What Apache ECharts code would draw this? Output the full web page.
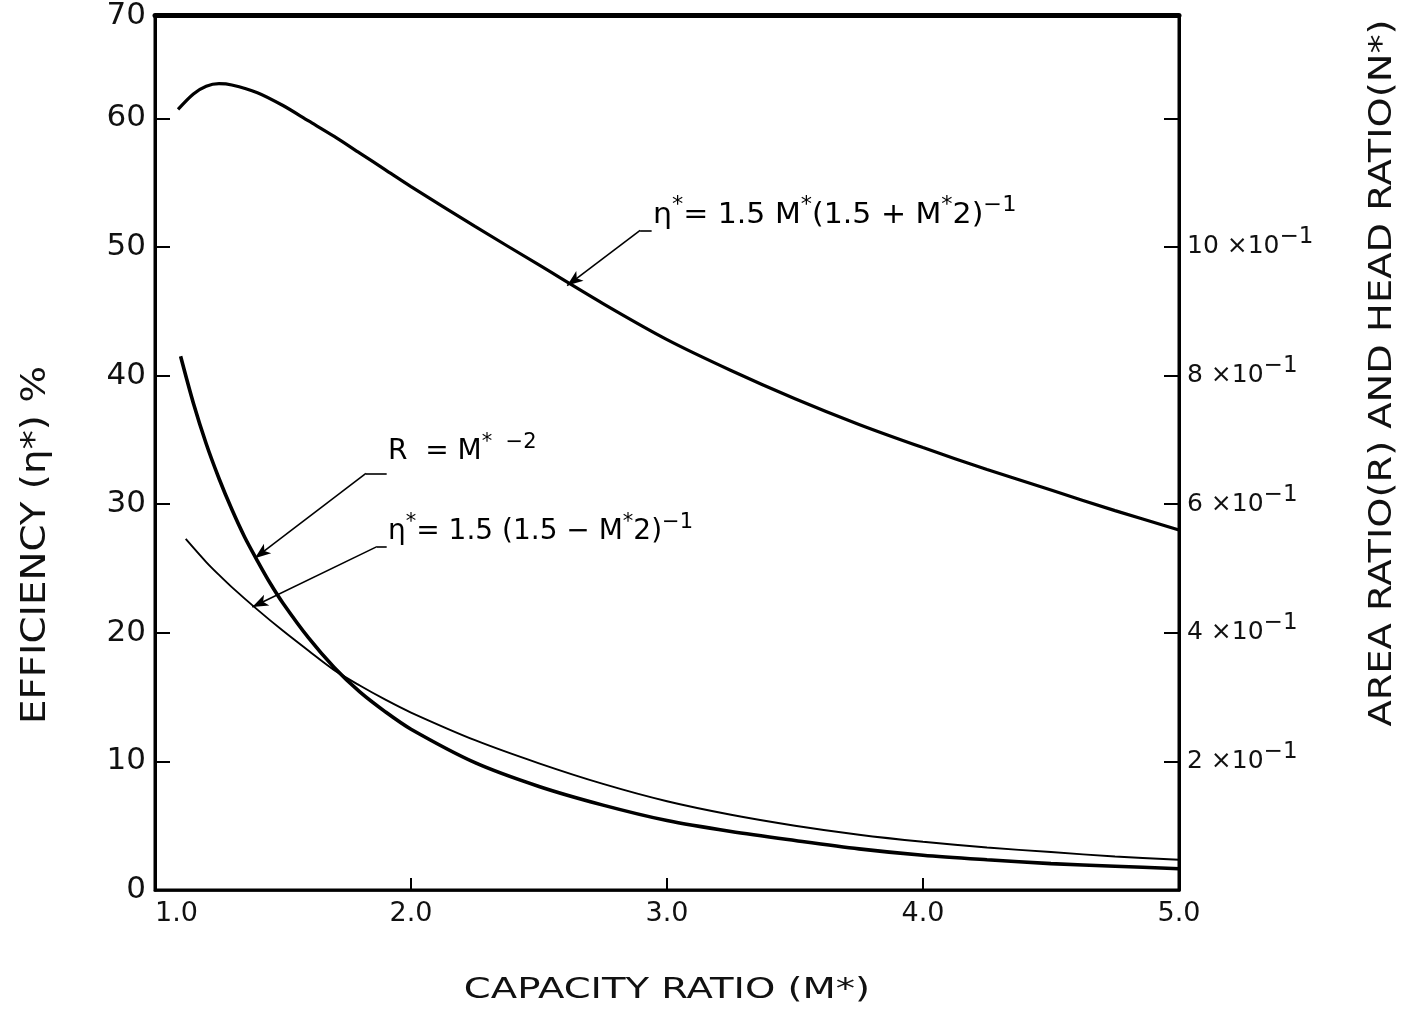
<!DOCTYPE html>
<html>
<head>
<meta charset="utf-8">
<script src="https://cdn.jsdelivr.net/npm/echarts/dist/echarts.min.js"></script>
<style>
html,body{margin:0;padding:0;background:#fff;}
#chart{width:1405px;height:1016px;}
</style>
</head>
<body>
<div id="chart"></div>
<script>
// ---------- data ----------
// Efficiency curve  η* = 1.5 M*(1.5 + M*²)⁻¹   (left axis, %)
const M_eta = [1.09, 1.15, 1.2, 1.25, 1.3, 1.4, 1.5, 1.6, 1.7, 1.8, 1.9, 2.0, 2.25, 2.5, 2.75, 3.0, 3.25, 3.5, 3.75, 4.0, 4.25, 4.5, 4.75, 5.0];
const etaPct = [60.7, 61.9, 62.5, 62.7, 62.6, 62.0, 61.0, 59.8, 58.6, 57.3, 56.0, 54.7, 51.6, 48.6, 45.6, 42.8, 40.4, 38.2, 36.2, 34.4, 32.7, 31.1, 29.5, 28.0];

// Area ratio  R = M*⁻²   (right axis, ratio)
const M_R = [1.1, 1.15, 1.2, 1.25, 1.3, 1.35, 1.4, 1.45, 1.5, 1.6, 1.7, 1.8, 1.9, 2.0, 2.25, 2.5, 2.75, 3.0, 3.25, 3.5, 3.75, 4.0, 4.25, 4.5, 4.75, 5.0];
const areaR = [0.83, 0.757, 0.694, 0.64, 0.592, 0.549, 0.512, 0.477, 0.446, 0.392, 0.346, 0.308, 0.277, 0.25, 0.198, 0.161, 0.132, 0.108, 0.091, 0.077, 0.064, 0.054, 0.047, 0.041, 0.037, 0.033];

// Head ratio  η* = 1.5 (1.5 − M*²)⁻¹   (right axis, ratio)
const M_N = [1.12, 1.2, 1.25, 1.3, 1.4, 1.5, 1.6, 1.7, 1.8, 1.9, 2.0, 2.25, 2.5, 2.75, 3.0, 3.25, 3.5, 3.75, 4.0, 4.25, 4.5, 4.75, 5.0];
const headN = [0.546, 0.51, 0.49, 0.471, 0.436, 0.403, 0.372, 0.342, 0.318, 0.296, 0.276, 0.233, 0.197, 0.165, 0.138, 0.117, 0.1, 0.086, 0.075, 0.066, 0.059, 0.052, 0.047];

// tick labels
const xTickLabels = ['1.0', '2.0', '3.0', '4.0', '5.0'];
const leftTickLabels = ['0', '10', '20', '30', '40', '50', '60', '70'];
const rightTickValues = [0.2, 0.4, 0.6, 0.8, 1.0];
const rightTickMantissas = ['2', '4', '6', '8', '10'];

// titles
const xTitle = 'CAPACITY RATIO (M*)';
const leftTitle = 'EFFICIENCY (η*) %';
const rightTitle = 'AREA RATIO(R) AND HEAD RATIO(N*)';

// ---------- chart ----------
const FONT = '"DejaVu Sans", "Liberation Sans", sans-serif';
const INK = '#111';
const LEFT_MAX = 68;          // top border of the drawing (labelled 70 in the original)
const RIGHT_MAX = LEFT_MAX / 50;

const chart = echarts.init(document.getElementById('chart'), null, {renderer: 'canvas'});

const zip = (xs, ys) => xs.map((x, i) => [x, ys[i]]);

const supRich = {
  a: {fontSize: 25, fontFamily: FONT, color: INK, lineHeight: 42},
  s: {fontSize: 23, fontFamily: FONT, color: INK, lineHeight: 22, verticalAlign: 'top'}
};

const option = {
  animation: false,
  backgroundColor: '#fff',
  grid: {left: 155, right: 226, top: 15, bottom: 126, show: true, borderColor: '#000', borderWidth: 3, containLabel: false},
  xAxis: [{
    type: 'value', min: 1, max: 5, interval: 1,
    axisLine: {show: true, onZero: false, lineStyle: {color: '#000', width: 2.5}},
    axisTick: {show: true, inside: true, length: 12, lineStyle: {color: '#000', width: 2}},
    splitLine: {show: false},
    axisLabel: {
      color: INK, fontSize: 27, fontFamily: FONT, margin: 10,
      alignMinLabel: 'left',
      formatter: v => xTickLabels[Math.round(v) - 1] || ''
    }
  }, {
    type: 'value', min: 1, max: 5, position: 'top',
    axisLine: {show: true, onZero: false, lineStyle: {color: '#000', width: 5}},
    axisTick: {show: false}, axisLabel: {show: false}, splitLine: {show: false}
  }],
  yAxis: [
    {
      type: 'value', min: 0, max: LEFT_MAX, interval: 10,
      axisLine: {show: true, onZero: false, lineStyle: {color: '#000', width: 3}},
      axisTick: {show: true, inside: true, length: 15, lineStyle: {color: '#000', width: 2}},
      splitLine: {show: false},
      axisLabel: {
        color: INK, fontSize: 31, fontFamily: FONT, margin: 9, showMaxLabel: true,
        formatter: v => (v >= LEFT_MAX ? leftTickLabels[leftTickLabels.length - 1] : (leftTickLabels[Math.round(v / 10)] || ''))
      }
    },
    {
      type: 'value', min: 0, max: RIGHT_MAX, interval: 0.2, position: 'right',
      axisLine: {show: true, onZero: false, lineStyle: {color: '#000', width: 3}},
      axisTick: {show: true, inside: true, length: 15, lineStyle: {color: '#000', width: 2}},
      splitLine: {show: false},
      axisLabel: {
        color: INK, fontSize: 25, fontFamily: FONT, margin: 8,
        formatter: v => {
          const i = rightTickValues.findIndex(t => Math.abs(t - v) < 1e-6);
          if (i < 0) return '';
          return '{a|' + rightTickMantissas[i] + ' ×10}{s|−1}';
        },
        rich: supRich
      }
    }
  ],
  series: [
    {
      name: 'eta', type: 'line', xAxisIndex: 0, yAxisIndex: 0, data: zip(M_eta, etaPct),
      smooth: 0.3, showSymbol: false, silent: true,
      lineStyle: {color: '#000', width: 3.2},
      markLine: {
        silent: true, symbol: ['none', 'none'], label: {show: false},
        lineStyle: {color: '#000', width: 1.6, type: 'solid'},
        data: [
          [{coord: [2.94, 51.3]}, {coord: [2.895, 51.3]}],
          [{coord: [2.895, 51.3]}, {coord: [2.61, 47.0], symbol: 'arrow', symbolSize: [9, 16]}],
          [{coord: [1.905, 32.4]}, {coord: [1.824, 32.4]}],
          [{coord: [1.824, 32.4]}, {coord: [1.39, 25.8], symbol: 'arrow', symbolSize: [9, 16]}],
          [{coord: [1.905, 26.7]}, {coord: [1.867, 26.7]}],
          [{coord: [1.867, 26.7]}, {coord: [1.38, 22.0], symbol: 'arrow', symbolSize: [9, 16]}]
        ]
      }
    },
    {
      name: 'R', type: 'line', xAxisIndex: 0, yAxisIndex: 1, data: zip(M_R, areaR),
      smooth: 0.3, showSymbol: false, silent: true,
      lineStyle: {color: '#000', width: 3.6}
    },
    {
      name: 'N', type: 'line', xAxisIndex: 0, yAxisIndex: 1, data: zip(M_N, headN),
      smooth: 0.3, showSymbol: false, silent: true,
      lineStyle: {color: '#000', width: 1.9}
    }
  ]
};
chart.setOption(option);

// ---------- annotation labels & titles ----------
const annRich = {
  t: {fontSize: 28, fontFamily: FONT, color: INK, lineHeight: 40},
  s: {fontSize: 21, fontFamily: FONT, color: INK, lineHeight: 21, verticalAlign: 'top'}
};
const annotations = [
  {at: [2.945, 50.9], scale: 1.07, text: '{t|η}{s|*}{t|= 1.5 M}{s|*}{t|(1.5 + M}{s|*}{t|2)}{s|−1}'},
  {at: [1.91, 32.5], scale: 1.0, text: '{t|R  = M}{s|*  −2}'},
  {at: [1.91, 26.3], scale: 1.0, text: '{t|η}{s|*}{t|= 1.5 (1.5 − M}{s|*}{t|2)}{s|−1}'}
];
const graphics = annotations.map(a => {
  const p = chart.convertToPixel({xAxisIndex: 0, yAxisIndex: 0}, a.at);
  return {
    type: 'text', x: p[0], y: p[1], scaleX: a.scale, silent: true,
    style: {text: a.text, rich: annRich, align: 'left', verticalAlign: 'bottom', textAlign: 'left', textVerticalAlign: 'bottom'}
  };
});
const titleStyle = (text, size) => ({text, fontSize: size, fontFamily: FONT, fill: INK,
  align: 'center', verticalAlign: 'middle', textAlign: 'center', textVerticalAlign: 'middle'});
graphics.push(
  {type: 'text', x: 667, y: 990, scaleX: 1.33, silent: true, style: titleStyle(xTitle, 29)},
  {type: 'text', x: 36, y: 545, rotation: Math.PI / 2, scaleX: 1.14, silent: true, style: titleStyle(leftTitle, 34)},
  {type: 'text', x: 1383, y: 373, rotation: Math.PI / 2, scaleX: 1.2, silent: true, style: titleStyle(rightTitle, 32)}
);
chart.setOption({graphic: graphics});
</script>
</body>
</html>
